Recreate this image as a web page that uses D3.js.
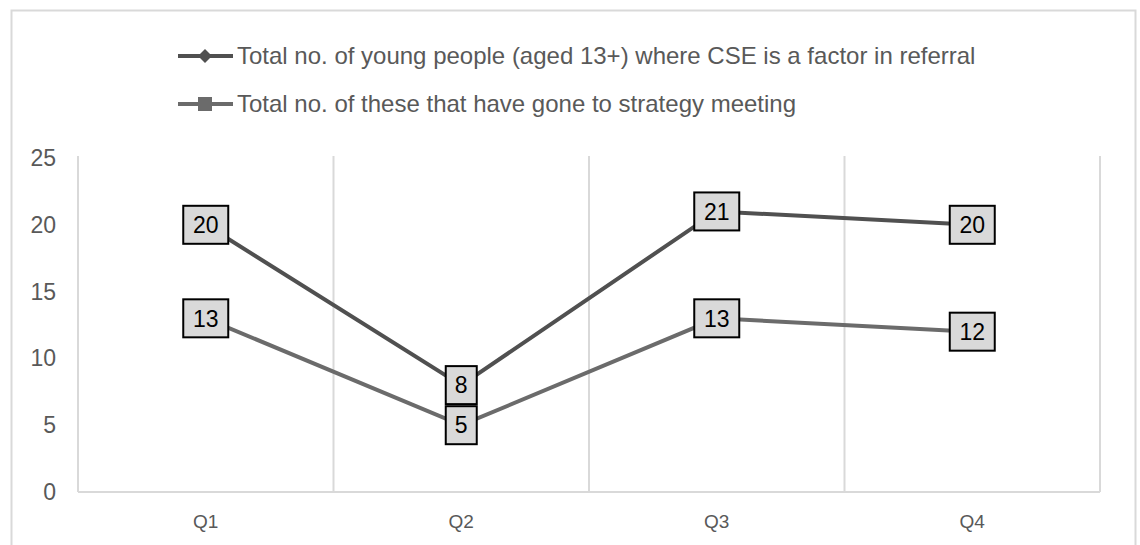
<!DOCTYPE html>
<html>
<head>
<meta charset="utf-8">
<script src="https://cdn.jsdelivr.net/npm/d3@7"></script>
<style>
  body { margin: 0; background: #fff; }
  svg { font-family: "Liberation Sans", Arial, sans-serif; }
</style>
</head>
<body>
<div id="chart"></div>
<script>
// chart data
var quarters = ["Q1", "Q2", "Q3", "Q4"];
var referralTotals = [20, 8, 21, 20];
var strategyTotals = [13, 5, 13, 12];
var seriesNames = [
  "Total no. of young people (aged 13+) where CSE is a factor in referral",
  "Total no. of these that have gone to strategy meeting"
];
var yTicks = [0, 5, 10, 15, 20, 25];

var width = 1140, height = 545;
var plot = { left: 78, right: 1100, top: 158, bottom: 492 };

var svg = d3.select("#chart").append("svg")
  .attr("width", width)
  .attr("height", height);

// outer frame
svg.append("rect")
  .attr("x", 11.5).attr("y", 10.5)
  .attr("width", 1124).attr("height", 560)
  .attr("fill", "none")
  .attr("stroke", "#d9d9d9")
  .attr("stroke-width", 2);

var x = d3.scaleBand().domain(quarters).range([plot.left, plot.right]).padding(0);
var y = d3.scaleLinear().domain([0, 25]).range([plot.bottom, plot.top]);

// vertical grid lines at category edges
var edges = quarters.map(function (q) { return x(q); }).concat([plot.right]);
svg.append("g").selectAll("line")
  .data(edges)
  .enter().append("line")
  .attr("x1", function (d) { return d; })
  .attr("x2", function (d) { return d; })
  .attr("y1", plot.top - 2)
  .attr("y2", plot.bottom)
  .attr("stroke", "#d9d9d9")
  .attr("stroke-width", 2);

// bottom axis line
svg.append("line")
  .attr("x1", plot.left).attr("x2", plot.right)
  .attr("y1", plot.bottom).attr("y2", plot.bottom)
  .attr("stroke", "#d9d9d9")
  .attr("stroke-width", 2);

// y tick labels
svg.append("g").selectAll("text")
  .data(yTicks)
  .enter().append("text")
  .attr("x", 56)
  .attr("y", function (d) { return y(d); })
  .attr("dy", "0.35em")
  .attr("text-anchor", "end")
  .attr("font-size", 23)
  .attr("fill", "#595959")
  .text(function (d) { return d; });

// x tick labels
svg.append("g").selectAll("text")
  .data(quarters)
  .enter().append("text")
  .attr("x", function (d) { return x(d) + x.bandwidth() / 2; })
  .attr("y", 521)
  .attr("dy", "0.35em")
  .attr("text-anchor", "middle")
  .attr("font-size", 19)
  .attr("fill", "#595959")
  .text(function (d) { return d; });

var series = [
  { name: seriesNames[0], values: referralTotals, color: "#505050", marker: "diamond" },
  { name: seriesNames[1], values: strategyTotals, color: "#6b6b6b", marker: "square" }
];

var line = d3.line()
  .x(function (d, i) { return x(quarters[i]) + x.bandwidth() / 2; })
  .y(function (d) { return y(d); });

series.forEach(function (s) {
  svg.append("path")
    .attr("d", line(s.values))
    .attr("fill", "none")
    .attr("stroke", s.color)
    .attr("stroke-width", 4);
});

// data labels in boxes
series.forEach(function (s) {
  var g = svg.append("g").selectAll("g")
    .data(s.values)
    .enter().append("g")
    .attr("transform", function (d, i) {
      return "translate(" + (x(quarters[i]) + x.bandwidth() / 2) + "," + y(d) + ")";
    });
  g.append("rect")
    .attr("x", function (d) { return String(d).length > 1 ? -22.5 : -15.5; })
    .attr("width", function (d) { return String(d).length > 1 ? 45 : 31; })
    .attr("y", -19)
    .attr("height", 38)
    .attr("fill", "#d9d9d9")
    .attr("stroke", "#000")
    .attr("stroke-width", 2);
  g.append("text")
    .attr("text-anchor", "middle")
    .attr("dy", "0.36em")
    .attr("font-size", 23)
    .attr("fill", "#000")
    .text(function (d) { return d; });
});

// legend
var legend = svg.append("g").selectAll("g")
  .data(series)
  .enter().append("g")
  .attr("transform", function (d, i) { return "translate(178," + (56 + i * 48) + ")"; });

legend.append("line")
  .attr("x1", 0).attr("x2", 55)
  .attr("stroke", function (d) { return d.color; })
  .attr("stroke-width", 4);

legend.append("path")
  .attr("transform", "translate(27,0)")
  .attr("d", function (d) {
    return d.marker === "diamond" ? "M0,-7L7,0L0,7L-7,0Z" : "M-7,-7H7V7H-7Z";
  })
  .attr("fill", function (d) { return d.color; });

legend.append("text")
  .attr("x", 59)
  .attr("dy", "0.35em")
  .attr("font-size", 24)
  .attr("fill", "#595959")
  .text(function (d) { return d.name; });
</script>
</body>
</html>
